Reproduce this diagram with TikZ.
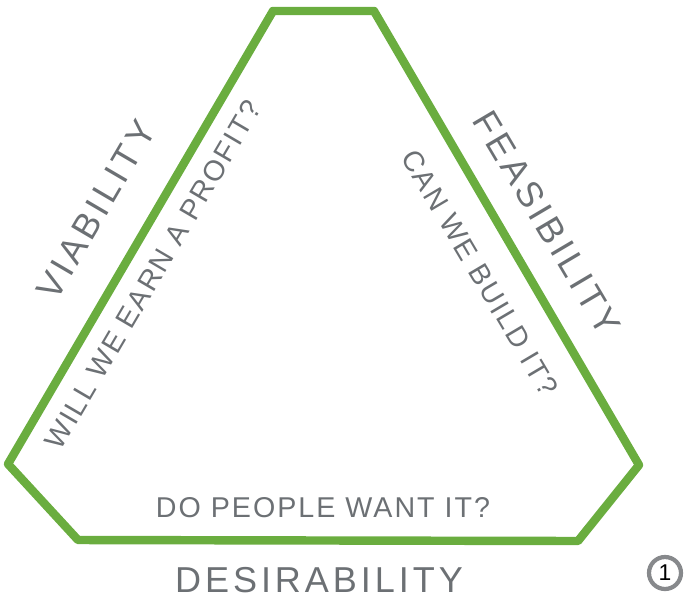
\documentclass[tikz,border=0pt]{standalone}
\usepackage{fontspec}
\usepackage{xcolor}
\usepackage{tikz}
\usetikzlibrary{positioning}

\newfontfamily\pillarfont[LetterSpace=11]{Liberation Sans}
\newfontfamily\askfont[LetterSpace=7]{Liberation Sans}

\definecolor{sketchgreen}{RGB}{106,173,63}
\definecolor{penGray}{RGB}{108,112,116}
\definecolor{ringGray}{RGB}{135,137,140}

\begin{document}
\begin{tikzpicture}[
    x=0.02cm, y=-0.02cm,
    frame/.style={draw=sketchgreen, line width=4.8pt, line join=round},
    pillar/.style={inner sep=0pt, text=penGray,
                   font=\pillarfont\fontsize{20.5}{24}\selectfont},
    ask/.style={inner sep=0pt, text=penGray,
                font=\askfont\fontsize{16.3}{19}\selectfont},
    ring/.style={draw=ringGray, circle, line width=2.4pt, minimum size=0.64cm,
                 inner sep=0pt, font=\askfont\fontsize{13}{15}\selectfont},
]
\useasboundingbox (0,0) rectangle (687,603);

%% ── Outline (cut triangle) ───────────────────────────────────────────────
\coordinate (tl) at (273,11);
\coordinate (tr) at (374,11);
\coordinate (rc) at (639,465);
\coordinate (br) at (578,541);
\coordinate (bl) at (78,540);
\coordinate (lc) at (8,464);

\draw[frame] (tl) -- (tr) -- (rc) -- (br) -- (bl) -- (lc) -- cycle;

%% ── Left side ────────────────────────────────────────────────────────────
\node[pillar, rotate=59.6] (viab) at (96,210) {VIABILITY};
\node[ask, rotate=59.6]    (viabq) at (153,275) {WILL WE EARN A PROFIT?};

%% ── Right side ───────────────────────────────────────────────────────────
\node[pillar, rotate=-59.4] (feas) at (547,223) {FEASIBILITY};
\node[ask, rotate=-59.4]    (feasq) at (480,273) {CAN WE BUILD IT?};

%% ── Bottom ───────────────────────────────────────────────────────────────
\node[ask]    (desq) at (323,508) {DO PEOPLE WANT IT?};
\node[pillar] (des)  at (319,580) {DESIRABILITY};

%% ── Figure number ────────────────────────────────────────────────────────
\node[ring] (num) at (665,573) {1};

\end{tikzpicture}
\end{document}
